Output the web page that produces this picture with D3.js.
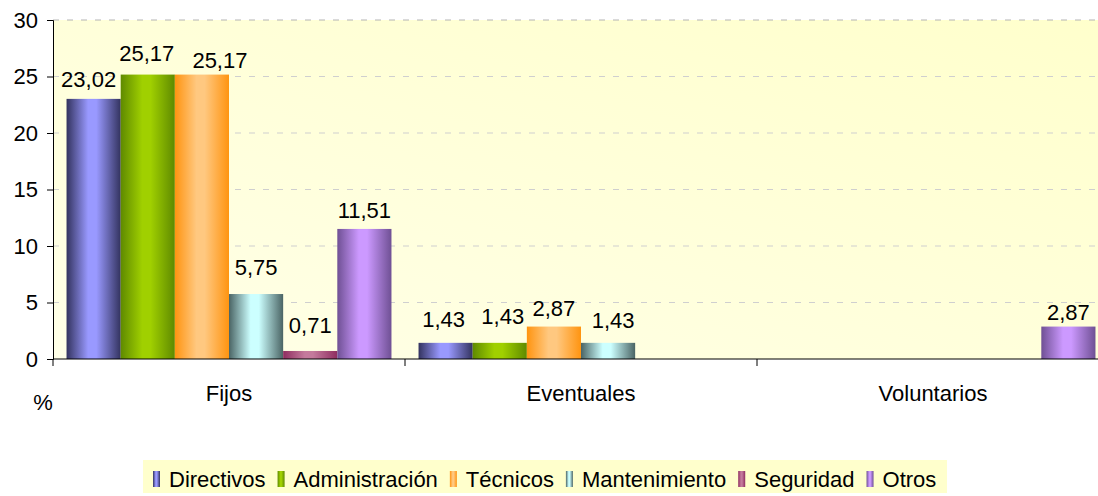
<!DOCTYPE html>
<html>
<head>
<meta charset="utf-8">
<script src="https://cdn.jsdelivr.net/npm/d3@7"></script>
<style>
  body { margin: 0; background: #fff; }
  svg { display: block; font-family: Arial, "Liberation Sans", sans-serif; }
</style>
</head>
<body>
<div id="chart"></div>
<script>
// Data
const groups = ['Fijos', 'Eventuales', 'Voluntarios'];
const series = ['Directivos', 'Administración', 'Técnicos', 'Mantenimiento', 'Seguridad', 'Otros'];
const fijos = [23.02, 25.17, 25.17, 5.75, 0.71, 11.51];
const eventuales = [1.43, 1.43, 2.87, 1.43, null, null];
const voluntarios = [null, null, null, null, null, 2.87];
const yTicks = [0, 5, 10, 15, 20, 25, 30];

// Bar colours: [edge, centre]
const colors = [
  ['#33335f', '#9999ff'],
  ['#5f8a00', '#a0d000'],
  ['#ff9410', '#ffc880'],
  ['#4a6464', '#ccffff'],
  ['#8f2d60', '#c47a9c'],
  ['#6f5094', '#cc99ff']
];

// labels were nudged by hand in the original, [dx, dy] per group
const labelNudge = [
  [[-5, 2], [-1, 0], [18, 7], [0, -5], [0, -4], [0, 3]],
  [[-2, -2], [3, -5], [0, 3], [5, -1], [0, 0], [0, 0]],
  [[0, 0], [0, 0], [0, 0], [0, 0], [0, 0], [0, 7]]
];

const values = [fijos, eventuales, voluntarios];

const W = 1098, H = 496;
// plot runs a little past the right edge of the picture (clipped)
const mLeft = 53, mRight = 1109, mTop = 20, mBottom = 359;
const fs = 22;

const svg = d3.select('#chart')
    .append('svg')
    .attr('width', W)
    .attr('height', H);

const defs = svg.append('defs');

// plot background
const bg = defs.append('linearGradient')
    .attr('id', 'bg')
    .attr('x1', '0%').attr('y1', '100%')
    .attr('x2', '100%').attr('y2', '0%');
bg.append('stop').attr('offset', '0%').attr('stop-color', '#ffffe8');
bg.append('stop').attr('offset', '100%').attr('stop-color', '#ffffcc');

// one gradient per series, dark edges and light centre
colors.forEach((c, i) => {
    const g = defs.append('linearGradient')
        .attr('id', 'bar' + i)
        .attr('x1', '0%').attr('x2', '100%')
        .attr('y1', '0%').attr('y2', '0%');
    g.append('stop').attr('offset', '0%').attr('stop-color', c[0]);
    g.append('stop').attr('offset', '40%').attr('stop-color', c[1]);
    g.append('stop').attr('offset', '55%').attr('stop-color', c[1]);
    g.append('stop').attr('offset', '100%').attr('stop-color', c[0]);
});

const x0 = d3.scaleBand()
    .domain(groups)
    .range([mLeft, mRight])
    .paddingInner(0)
    .paddingOuter(0);

const x1 = d3.scaleBand()
    .domain(series)
    .range([0, x0.bandwidth()])
    .paddingOuter(0.25)
    .paddingInner(0);

const y = d3.scaleLinear()
    .domain([0, 30])
    .range([mBottom, mTop]);

svg.append('rect')
    .attr('x', mLeft)
    .attr('y', mTop)
    .attr('width', mRight - mLeft)
    .attr('height', mBottom - mTop)
    .attr('fill', 'url(#bg)');

// gridlines
svg.append('g')
    .selectAll('line')
    .data(yTicks.filter(d => d > 0))
    .enter()
    .append('line')
    .attr('x1', mLeft)
    .attr('x2', mRight)
    .attr('y1', d => y(d))
    .attr('y2', d => y(d))
    .attr('stroke', d => d == 30 ? '#b4b4b4' : '#cfcfcf')
    .attr('stroke-width', 1)
    .attr('stroke-dasharray', '6,8');

// bars
const gGroups = svg.append('g')
    .selectAll('g')
    .data(groups)
    .enter()
    .append('g')
    .attr('transform', d => `translate(${x0(d)},0)`);

const cells = gGroups.selectAll('g')
    .data((d, gi) => series.map((s, si) => ({s: s, si: si, gi: gi, v: values[gi][si]})).filter(e => e.v != null))
    .enter()
    .append('g');

cells.append('rect')
    .attr('x', d => x1(d.s))
    .attr('y', d => y(d.v))
    .attr('width', x1.bandwidth())
    .attr('height', d => y(0) - y(d.v))
    .attr('fill', d => 'url(#bar' + d.si + ')');

cells.append('text')
    .attr('x', d => x1(d.s) + x1.bandwidth() / 2 + labelNudge[d.gi][d.si][0])
    .attr('y', d => y(d.v) - 14 + labelNudge[d.gi][d.si][1])
    .attr('text-anchor', 'middle')
    .attr('font-size', fs)
    .attr('fill', '#000')
    .text(d => d3.format('.2f')(d.v).replace('.', ','));

// y axis
const yAxis = svg.append('g')
    .attr('transform', `translate(${mLeft},0)`)
    .call(d3.axisLeft(y).tickValues(yTicks).tickSize(6).tickPadding(9));
yAxis.select('.domain').attr('stroke', '#000');
yAxis.selectAll('.tick line').attr('stroke', '#000');
yAxis.selectAll('.tick text')
    .attr('font-size', fs)
    .attr('fill', '#000')
    .attr('font-family', 'Arial, "Liberation Sans", sans-serif');

// x axis: ticks at group boundaries
const xAxis = svg.append('g')
    .attr('transform', `translate(0,${mBottom})`);
xAxis.append('line')
    .attr('x1', mLeft).attr('x2', mRight)
    .attr('y1', 0).attr('y2', 0)
    .attr('stroke', '#000');
xAxis.selectAll('line.tk')
    .data(groups)
    .enter()
    .append('line')
    .attr('class', 'tk')
    .attr('x1', d => x0(d)).attr('x2', d => x0(d))
    .attr('y1', 0).attr('y2', 7)
    .attr('stroke', '#000');
xAxis.selectAll('text')
    .data(groups)
    .enter()
    .append('text')
    .attr('x', d => x0(d) + x0.bandwidth() / 2)
    .attr('y', 42)
    .attr('text-anchor', 'middle')
    .attr('font-size', fs)
    .text(d => d);

svg.append('text')
    .attr('x', 43)
    .attr('y', 410)
    .attr('text-anchor', 'middle')
    .attr('font-size', fs)
    .text('%');

// legend
const legend = svg.append('g');
legend.append('rect')
    .attr('x', 143)
    .attr('y', 460)
    .attr('width', 804)
    .attr('height', 33)
    .attr('fill', '#ffffcc');

const items = legend.selectAll('g')
    .data(series)
    .enter()
    .append('g');

items.append('text')
    .attr('y', 487)
    .attr('font-size', fs)
    .text(d => d);

// lay out legend items one after another
let cx = 153;
items.each(function(d, i) {
    const item = d3.select(this);
    item.insert('rect', 'text')
        .attr('x', cx)
        .attr('y', 471)
        .attr('width', 7)
        .attr('height', 16)
        .attr('fill', 'url(#bar' + i + ')');
    const t = item.select('text').attr('x', cx + 16);
    cx += 16 + t.node().getComputedTextLength() + 12;
});
</script>
</body>
</html>
